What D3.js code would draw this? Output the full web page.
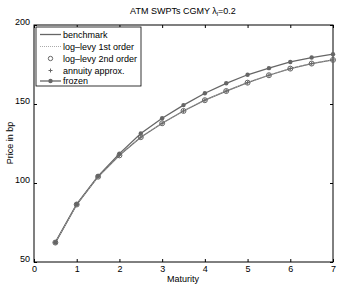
<!DOCTYPE html>
<html>
<head>
<script src="https://cdnjs.cloudflare.com/ajax/libs/d3/7.8.5/d3.min.js"></script>
<style>
  body { margin: 0; background: #fff; }
  text { font-family: "Liberation Sans", Arial, sans-serif; }
</style>
</head>
<body>
<svg width="341" height="286"></svg>
<script>
var maturities = [0.5, 1, 1.5, 2, 2.5, 3, 3.5, 4, 4.5, 5, 5.5, 6, 6.5, 7];
var benchmark = [62.3, 86.4, 104.0, 117.5, 129.0, 137.8, 145.6, 152.4, 158.2, 163.5, 168.2, 172.4, 175.6, 177.9];
var logLevy1 = [62.3, 86.4, 104.0, 117.6, 129.1, 137.9, 145.7, 152.5, 158.3, 163.6, 168.3, 172.5, 175.7, 178.0];
var logLevy2 = [62.3, 86.4, 104.0, 117.5, 129.0, 137.8, 145.6, 152.4, 158.2, 163.5, 168.2, 172.4, 175.6, 177.9];
var annuity = [62.3, 86.4, 104.0, 117.5, 129.0, 137.8, 145.6, 152.4, 158.2, 163.5, 168.2, 172.4, 175.6, 177.9];
var frozen = [62.4, 86.6, 104.4, 118.6, 131.3, 141.0, 149.3, 156.8, 163.1, 168.5, 172.7, 176.6, 179.4, 181.5];
var xTicks = [0, 1, 2, 3, 4, 5, 6, 7];
var yTicks = [50, 100, 150, 200];
var legendLabels = ["benchmark", "log\u2013levy 1st order", "log\u2013levy 2nd order", "annuity approx.", "frozen"];

var svg = d3.select("svg");
var pLeft = 34, pRight = 333, pTop = 25, pBottom = 262;
var col = "#666";

var x = d3.scaleLinear().domain([0, 7]).range([pLeft, pRight]);
var y = d3.scaleLinear().domain([50, 200]).range([pBottom, pTop]);

// axes box
svg.append("rect").attr("x", pLeft).attr("y", pTop).attr("width", pRight - pLeft).attr("height", pBottom - pTop)
  .attr("fill", "none").attr("stroke", "#000").attr("stroke-width", 1);

var xb = svg.append("g").attr("transform", "translate(0," + pBottom + ")")
  .call(d3.axisBottom(x).tickValues(xTicks).tickSize(-3).tickPadding(5).tickFormat(d3.format("d")));
var xt = svg.append("g").attr("transform", "translate(0," + pTop + ")")
  .call(d3.axisTop(x).tickValues(xTicks).tickSize(-3).tickFormat(""));
var yl = svg.append("g").attr("transform", "translate(" + pLeft + ",0)")
  .call(d3.axisLeft(y).tickValues(yTicks).tickSize(-3).tickPadding(4));
var yr = svg.append("g").attr("transform", "translate(" + pRight + ",0)")
  .call(d3.axisRight(y).tickValues(yTicks).tickSize(-3).tickFormat(""));
[xb, xt, yl, yr].forEach(function (g) {
  g.select(".domain").remove();
  g.selectAll("line").attr("stroke", "#000");
  g.selectAll("text").attr("font-size", 9).attr("fill", "#000")
    .attr("font-family", "Liberation Sans, Arial, sans-serif");
});
yl.selectAll("text").attr("dy", "-0.1em");
xb.selectAll("text").attr("dy", "0.6em");

var line = d3.line().x(function (d, i) { return x(maturities[i]); }).y(function (d) { return y(d); });

svg.append("path").datum(frozen).attr("d", line).attr("fill", "none").attr("stroke", col).attr("stroke-width", 1.3);
svg.append("path").datum(benchmark).attr("d", line).attr("fill", "none").attr("stroke", col).attr("stroke-width", 1.3);
svg.append("path").datum(logLevy1).attr("d", line).attr("fill", "none").attr("stroke", "#aaa").attr("stroke-width", 1).attr("stroke-dasharray", "1,1");

svg.selectAll(".fz").data(frozen).enter().append("circle")
  .attr("cx", function (d, i) { return x(maturities[i]); }).attr("cy", function (d) { return y(d); })
  .attr("r", 2.2).attr("fill", col);
svg.selectAll(".ll2").data(logLevy2).enter().append("circle")
  .attr("cx", function (d, i) { return x(maturities[i]); }).attr("cy", function (d) { return y(d); })
  .attr("r", 2.5).attr("fill", "none").attr("stroke", col).attr("stroke-width", 1);
svg.selectAll(".ann").data(annuity).enter().append("path")
  .attr("transform", function (d, i) { return "translate(" + x(maturities[i]) + "," + y(d) + ")"; })
  .attr("d", "M-2,0H2M0,-2V2").attr("stroke", col).attr("stroke-width", 1);

// legend
var lg = svg.append("g");
lg.append("rect").attr("x", 36).attr("y", 27).attr("width", 105).attr("height", 59)
  .attr("fill", "#fff").attr("stroke", "#000").attr("stroke-width", 0.8);
var ly = [34.5, 46.5, 58.5, 70.5, 81];
legendLabels.forEach(function (t, i) {
  var yy = ly[i];
  if (i === 0 || i === 4) lg.append("line").attr("x1", 40).attr("x2", 61).attr("y1", yy).attr("y2", yy).attr("stroke", col).attr("stroke-width", 1.3);
  if (i === 1) lg.append("line").attr("x1", 40).attr("x2", 61).attr("y1", yy).attr("y2", yy).attr("stroke", "#aaa").attr("stroke-dasharray", "1,1");
  if (i === 2) lg.append("circle").attr("cx", 50.5).attr("cy", yy).attr("r", 2.2).attr("fill", "none").attr("stroke", col);
  if (i === 3) lg.append("path").attr("transform", "translate(50.5," + yy + ")").attr("d", "M-2,0H2M0,-2V2").attr("stroke", col);
  if (i === 4) lg.append("circle").attr("cx", 50.5).attr("cy", yy).attr("r", 2.2).attr("fill", col);
  lg.append("text").attr("x", 63).attr("y", yy + 3.2).attr("font-size", 9).attr("fill", "#000").text(t);
});

// titles
var title = svg.append("text").attr("x", 183).attr("y", 14).attr("text-anchor", "middle").attr("font-size", 9);
title.append("tspan").text("ATM SWPTs CGMY  \u03bb");
title.append("tspan").attr("font-size", 6).attr("dy", 2).text("l");
title.append("tspan").attr("dy", -2).text("=0.2");
svg.append("text").attr("x", 183).attr("y", 282).attr("text-anchor", "middle").attr("font-size", 9).text("Maturity");
svg.append("text").attr("transform", "translate(13,143) rotate(-90)").attr("text-anchor", "middle").attr("font-size", 9).text("Price in bp");
</script>
</body>
</html>
